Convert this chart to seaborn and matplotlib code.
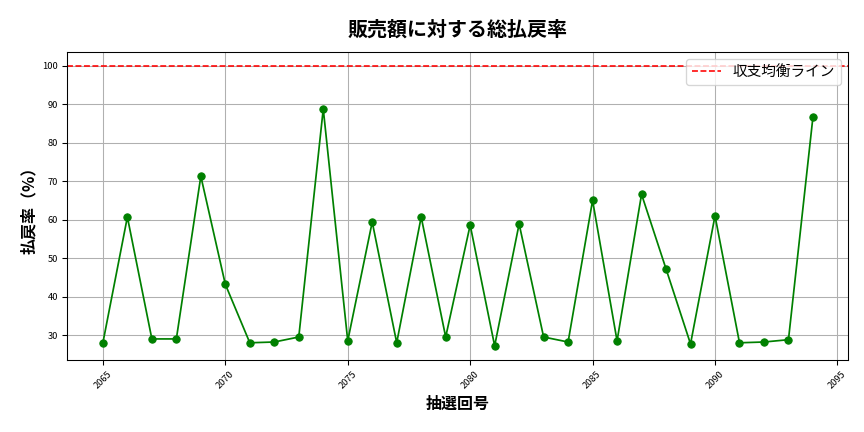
import matplotlib
matplotlib.use("Agg")
import matplotlib.pyplot as plt
import seaborn as sns
import pandas as pd

draws = list(range(2065, 2095))
payout = [28.0, 60.7, 29.0, 29.0, 71.3, 43.2, 28.0, 28.2, 29.5, 88.8,
          28.5, 59.4, 28.0, 60.7, 29.5, 58.6, 27.2, 58.9, 29.5, 28.2,
          65.0, 28.5, 66.6, 47.2, 27.7, 61.0, 28.0, 28.2, 28.8, 86.7]

plt.rcParams['font.family'] = ['Noto Sans CJK JP', 'DejaVu Sans']
df = pd.DataFrame({"draw": draws, "rate": payout})

fig, ax = plt.subplots(figsize=(9, 4.5), dpi=96)
sns.lineplot(data=df, x="draw", y="rate", ax=ax, color="green", marker="o",
             markersize=5.5, markeredgecolor="green", linewidth=1.3)
ax.axhline(100, color="red", linestyle="--", linewidth=1.2, label="収支均衡ライン")
ax.set_title("販売額に対する総払戻率", fontsize=15, fontweight="bold", pad=12)
ax.set_xlabel("抽選回号", fontsize=12, fontweight="bold")
ax.set_ylabel("払戻率（%）", fontsize=12, fontweight="bold")
ax.grid(True, color="#b0b0b0", linewidth=0.8)
ax.tick_params(axis='x', labelrotation=45, labelsize=7)
ax.tick_params(axis='y', labelsize=7)
ax.legend(loc="upper right", fontsize=11)
fig.subplots_adjust(left=0.078, right=0.982, top=0.88, bottom=0.167)
fig.savefig("out.png", dpi=96)
